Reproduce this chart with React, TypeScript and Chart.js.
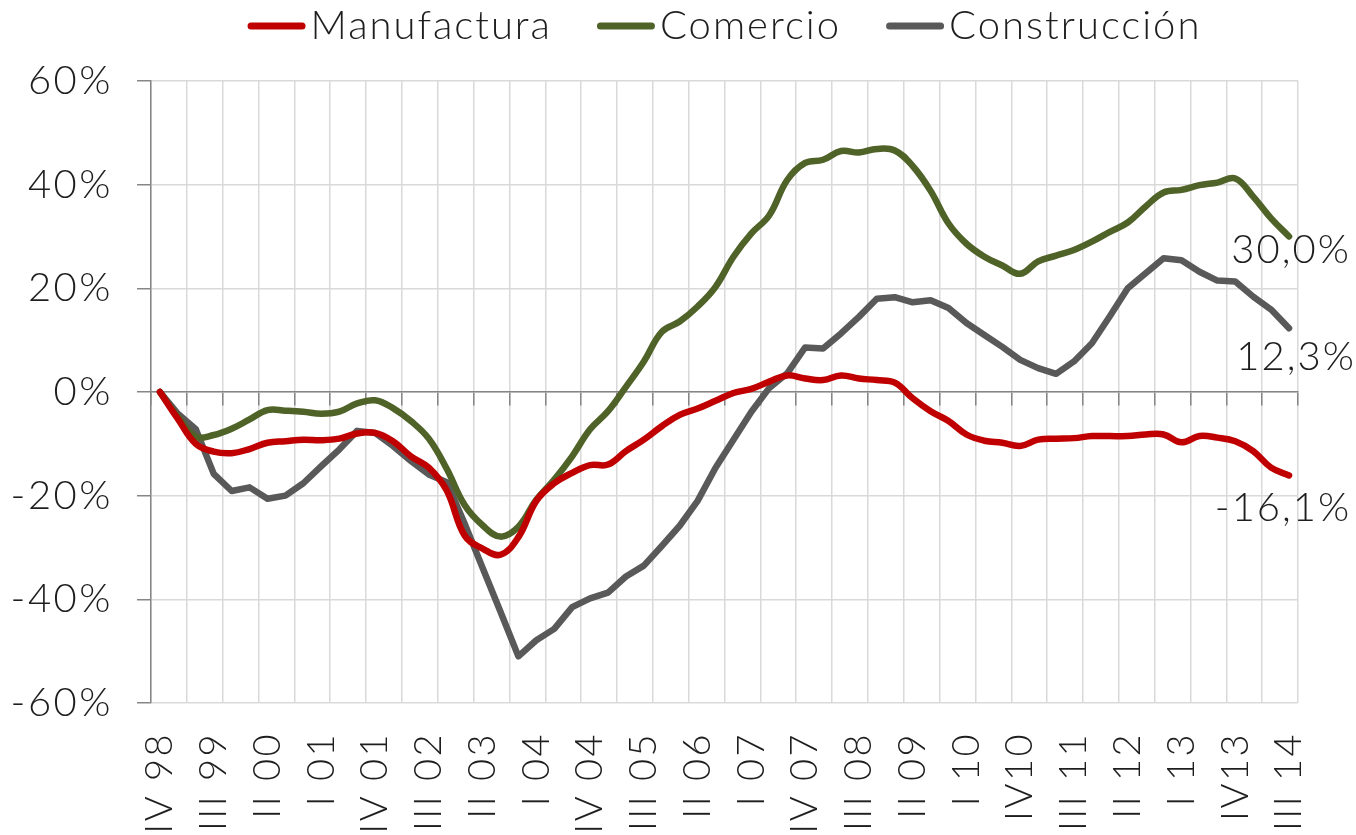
import React, { useEffect, useRef } from "react";
import { Chart, registerables } from "chart.js";

Chart.register(...registerables);

// Quarter labels (IV 98 .. III 14)
const quarters = [
  "IV 98",
  "I 99", "II 99", "III 99", "IV 99",
  "I 00", "II 00", "III 00", "IV 00",
  "I 01", "II 01", "III 01", "IV 01",
  "I 02", "II 02", "III 02", "IV 02",
  "I 03", "II 03", "III 03", "IV 03",
  "I 04", "II 04", "III 04", "IV 04",
  "I 05", "II 05", "III 05", "IV 05",
  "I 06", "II 06", "III 06", "IV 06",
  "I 07", "II 07", "III 07", "IV 07",
  "I 08", "II 08", "III 08", "IV 08",
  "I 09", "II 09", "III 09", "IV 09",
  "I 10", "II 10", "III 10", "IV10",
  "I 11", "II 11", "III 11", "IV 11",
  "I 12", "II 12", "III 12", "IV 12",
  "I 13", "II 13", "III 13", "IV13",
  "I 14", "II 14", "III 14",
];

const manufactura = [
  0, -5.2, -10.0, -11.5, -11.8, -11.0, -9.8, -9.5, -9.2, -9.3,
  -9.0, -8.0, -7.9, -9.5, -12.4, -14.6, -19.0, -27.7, -30.2, -31.4,
  -28.0, -21.0, -17.6, -15.6, -14.1, -14.0, -11.4, -9.2, -6.6, -4.4,
  -3.2, -1.7, -0.2, 0.6, 2.0, 3.2, 2.6, 2.3, 3.2, 2.6,
  2.3, 1.8, -1.2, -3.7, -5.6, -8.2, -9.4, -9.8, -10.4, -9.2,
  -9.0, -8.9, -8.5, -8.5, -8.5, -8.2, -8.2, -9.7, -8.5, -8.8,
  -9.5, -11.4, -14.6, -16.1,
];

const comercio = [
  0, -4.8, -8.6, -8.3, -7.1, -5.3, -3.5, -3.6, -3.8, -4.2,
  -3.8, -2.2, -1.6, -3.1, -5.6, -9.0, -14.8, -21.8, -25.7, -27.9,
  -26.0, -20.8, -16.9, -12.4, -7.2, -3.7, 1.0, 5.9, 11.6, 13.6,
  16.5, 20.3, 26.1, 30.6, 34.1, 40.9, 44.2, 44.8, 46.5, 46.2,
  46.9, 46.6, 43.6, 38.8, 32.5, 28.6, 26.1, 24.4, 22.8, 25.2,
  26.3, 27.4, 29.0, 30.9, 32.7, 35.8, 38.5, 39.0, 39.9, 40.4,
  41.2, 37.7, 33.5, 30.0,
];

const construccion = [
  0, -4.2, -7.2, -15.8, -19.1, -18.4, -20.6, -20.0, -17.6, -14.3,
  -11.1, -7.5, -7.9, -10.4, -13.3, -15.9, -17.4, -25.4, -33.9, -42.4,
  -51.0, -47.9, -45.7, -41.5, -39.8, -38.7, -35.6, -33.5, -29.7, -25.8,
  -21.0, -14.6, -9.2, -3.8, 0.8, 3.6, 8.6, 8.4, 11.3, 14.5,
  18.0, 18.3, 17.3, 17.7, 16.2, 13.3, 11.0, 8.7, 6.2, 4.6,
  3.5, 5.9, 9.4, 14.6, 20.0, 22.9, 25.8, 25.4, 23.2, 21.5,
  21.3, 18.4, 15.9, 12.3,
];

const seriesNames = ["Manufactura", "Comercio", "Construcción"];
const seriesColors = ["#C00000", "#4F6228", "#595959"];
const seriesTension = [0.4, 0.4, 0];

const FONT_FAMILY = "Lato, 'Open Sans', 'DejaVu Sans', sans-serif";
const TEXT_COLOR = "#1e1e1e";
const GRID_COLOR = "#D9D9D9";
const AXIS_COLOR = "#868686";
const LETTER_SPACING = "2.5px";

// offsets of the end-of-line value labels relative to the last point
const endLabelOffsets = [
  { dx: -6, dy: 46 },
  { dx: 2, dy: 26 },
  { dx: 7, dy: 42 },
];

const spacingPlugin = {
  id: "letterSpacing",
  beforeUpdate(chart: any) {
    chart.ctx.letterSpacing = LETTER_SPACING;
  },
  beforeDraw(chart: any) {
    chart.ctx.letterSpacing = LETTER_SPACING;
  },
};

const topLegendPlugin = {
  id: "topLegend",
  afterDraw(chart: any) {
    const ctx = chart.ctx;
    ctx.save();
    ctx.letterSpacing = "2px";
    ctx.font = `300 40px ${FONT_FAMILY}`;
    const lineW = 58;
    const gapText = 5;
    const gapItem = 45;
    const items = chart.data.datasets.map((ds: any) => ({
      label: ds.label,
      color: ds.borderColor,
      w: ctx.measureText(ds.label).width,
    }));
    const total =
      items.reduce((s: number, it: any) => s + lineW + gapText + it.w, 0) +
      gapItem * (items.length - 1);
    const ca = chart.chartArea;
    let x = (ca.left + ca.right) / 2 - total / 2;
    const cy = 26;
    const base = 39;
    items.forEach((it: any) => {
      ctx.strokeStyle = it.color;
      ctx.lineWidth = 7;
      ctx.lineCap = "round";
      ctx.beginPath();
      ctx.moveTo(x + 3.5, cy);
      ctx.lineTo(x + lineW - 3.5, cy);
      ctx.stroke();
      ctx.fillStyle = TEXT_COLOR;
      ctx.textAlign = "left";
      ctx.textBaseline = "alphabetic";
      ctx.fillText(it.label, x + lineW + gapText, base);
      x += lineW + gapText + it.w + gapItem;
    });
    ctx.restore();
  },
};

const endLabelPlugin = {
  id: "endLabels",
  afterDatasetsDraw(chart: any) {
    const ctx = chart.ctx;
    ctx.save();
    ctx.letterSpacing = "2px";
    ctx.font = `300 40px ${FONT_FAMILY}`;
    ctx.fillStyle = TEXT_COLOR;
    ctx.textAlign = "center";
    ctx.textBaseline = "alphabetic";
    chart.data.datasets.forEach((ds: any, i: number) => {
      const meta = chart.getDatasetMeta(i);
      const pt = meta.data[meta.data.length - 1];
      const v = ds.data[ds.data.length - 1];
      const text = v.toFixed(1).replace(".", ",") + "%";
      const off = endLabelOffsets[i];
      ctx.fillText(text, pt.x + off.dx, pt.y + off.dy);
    });
    ctx.restore();
  },
};

export default function App() {
  const canvasRef = useRef<HTMLCanvasElement | null>(null);

  useEffect(() => {
    const canvas = canvasRef.current;
    if (!canvas) return;
    const values = [manufactura, comercio, construccion];
    const chart = new Chart(canvas, {
      type: "line",
      data: {
        labels: quarters,
        datasets: values.map((d, i) => ({
          label: seriesNames[i],
          data: d,
          borderColor: seriesColors[i],
          backgroundColor: seriesColors[i],
          borderWidth: 6.5,
          pointRadius: 0,
          pointHoverRadius: 0,
          tension: seriesTension[i],
          borderCapStyle: "round",
          borderJoinStyle: "round",
          fill: false,
          xAxisID: "x",
          yAxisID: "y",
        })),
      },
      options: {
        animation: false,
        responsive: false,
        devicePixelRatio: 1,
        layout: { padding: { top: 81, right: 58, left: 0, bottom: 0 } },
        plugins: {
          legend: { display: false },
          tooltip: { enabled: false },
        },
        scales: {
          x: {
            type: "category",
            position: "bottom",
            offset: true,
            grid: { display: false, drawTicks: false },
            border: { display: false },
            ticks: {
              autoSkip: false,
              minRotation: 90,
              maxRotation: 90,
              padding: 29,
              color: TEXT_COLOR,
              font: { family: FONT_FAMILY, size: 38, weight: "300" },
              callback: function (this: any, val: any, idx: number) {
                return idx % 3 === 0 ? this.getLabelForValue(val) : "";
              },
            },
            afterFit: (scale: any) => {
              scale.height = 132;
              scale.paddingLeft = 0;
              scale.paddingRight = 0;
            },
          },
          xg: {
            type: "linear",
            position: { y: 0 },
            min: 0,
            max: 64,
            grid: {
              display: true,
              color: GRID_COLOR,
              lineWidth: 1.5,
              tickLength: 13,
              tickColor: AXIS_COLOR,
              tickWidth: 1.5,
            },
            border: { display: true, color: AXIS_COLOR, width: 1.5 },
            ticks: { display: false, stepSize: 2, autoSkip: false },
          },
          y: {
            type: "linear",
            position: "left",
            min: -60,
            max: 60,
            grid: {
              color: GRID_COLOR,
              lineWidth: 1.5,
              tickLength: 14,
              tickColor: AXIS_COLOR,
              tickWidth: 1.5,
            },
            border: { display: true, color: AXIS_COLOR, width: 1.5 },
            ticks: {
              stepSize: 20,
              padding: 24,
              color: TEXT_COLOR,
              font: { family: FONT_FAMILY, size: 40, weight: "300" },
              callback: (v: any) => `${v}%`,
            },
            afterFit: (scale: any) => {
              scale.width = 151;
            },
          },
        },
      } as any,
      plugins: [spacingPlugin, topLegendPlugin, endLabelPlugin],
    });
    return () => chart.destroy();
  }, []);

  return (
    <div style={{ position: "fixed", left: 0, top: 0, width: 1356, height: 835, background: "#fff" }}>
      <canvas ref={canvasRef} width={1356} height={835} style={{ display: "block" }} />
    </div>
  );
}
